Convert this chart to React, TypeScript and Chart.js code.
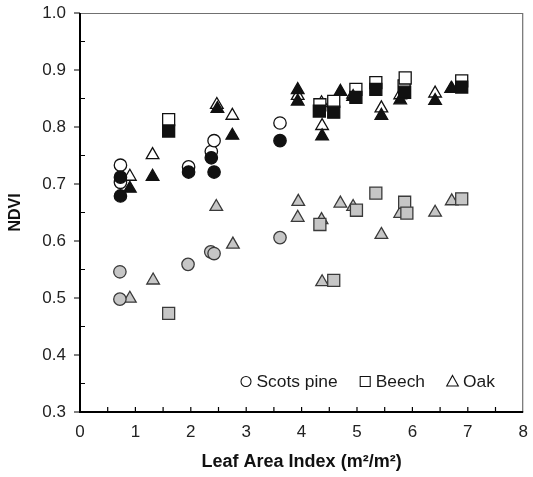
import React, { useEffect, useRef } from "react";
import { Chart, registerables } from "chart.js";

Chart.register(...registerables);

// ---- data (Leaf Area Index, NDVI) ----
const pineOpenX = [0.73, 0.73, 1.96, 2.37, 2.42, 3.61];
const pineOpenY = [0.733, 0.703, 0.73, 0.757, 0.776, 0.807];
const pineBlackX = [0.73, 0.73, 1.96, 2.37, 2.42, 3.61];
const pineBlackY = [0.712, 0.679, 0.721, 0.746, 0.721, 0.776];
const pineGreyX = [0.72, 0.72, 1.95, 2.36, 2.42, 3.61];
const pineGreyY = [0.546, 0.498, 0.559, 0.581, 0.578, 0.606];

const beechOpenX = [1.6, 4.33, 4.58, 4.98, 5.34, 5.85, 5.87, 6.89];
const beechOpenY = [0.813, 0.839, 0.845, 0.866, 0.878, 0.872, 0.886, 0.881];
const beechBlackX = [1.6, 4.32, 4.58, 4.98, 5.34, 5.86, 6.89];
const beechBlackY = [0.793, 0.828, 0.826, 0.852, 0.866, 0.861, 0.87];
const beechGreyX = [1.6, 4.33, 4.58, 4.99, 5.34, 5.86, 5.9, 6.89];
const beechGreyY = [0.473, 0.629, 0.531, 0.654, 0.684, 0.668, 0.649, 0.674];

const oakOpenX = [0.9, 1.31, 2.47, 2.75, 3.93, 4.36, 4.37, 4.93, 5.44, 5.78, 6.41, 6.7];
const oakOpenY = [0.713, 0.751, 0.839, 0.82, 0.855, 0.842, 0.802, 0.857, 0.833, 0.856, 0.859, 0.867];
const oakBlackX = [0.9, 1.31, 2.48, 2.75, 3.93, 3.93, 4.37, 4.7, 4.93, 5.44, 5.78, 6.41, 6.71];
const oakBlackY = [0.692, 0.713, 0.832, 0.785, 0.865, 0.845, 0.784, 0.862, 0.853, 0.82, 0.847, 0.846, 0.867];
const oakGreyX = [0.9, 1.32, 2.46, 2.76, 3.94, 3.93, 4.36, 4.7, 4.93, 4.37, 5.44, 5.78, 6.41, 6.71];
const oakGreyY = [0.499, 0.531, 0.66, 0.594, 0.669, 0.641, 0.637, 0.666, 0.66, 0.528, 0.611, 0.648, 0.65, 0.67];

const legendLabels = ["Scots pine", "Beech", "Oak"];
const xTitle = "Leaf Area Index (m²/m²)";
const yTitle = "NDVI";

const FONT = "'Liberation Sans', Arial, Helvetica, sans-serif";
const BLACK = "#111111";
const GREY = "#c6c6c6";
const GREY_EDGE = "#3a3a3a";

const pts = (xs: number[], ys: number[]) => xs.map((x, i) => ({ x, y: ys[i] }));

type Style = "circle" | "rect" | "triangle";
const radiusFor: Record<Style, number> = { circle: 6.2, rect: 8.5, triangle: 7.3 };

function ds(label: string, xs: number[], ys: number[], style: Style, kind: "open" | "black" | "grey", legend: boolean) {
  const bg = kind === "open" ? "#ffffff" : kind === "black" ? BLACK : GREY;
  const bd = kind === "grey" ? GREY_EDGE : BLACK;
  return {
    label,
    data: pts(xs, ys),
    pointStyle: style,
    pointRadius: radiusFor[style],
    pointBackgroundColor: bg,
    pointBorderColor: bd,
    pointBorderWidth: 1.3,
    showLine: false,
    order: kind === "open" ? 3 : kind === "grey" ? 2 : 1,
    legendItem: legend,
  } as any;
}

const framePlugin = {
  id: "frameTicks",
  afterDraw(chart: any) {
    const { ctx, chartArea: a, scales } = chart;
    const xs = scales.x;
    const ys = scales.y;
    ctx.save();
    // top & right frame
    ctx.strokeStyle = "#707070";
    ctx.lineWidth = 1.2;
    ctx.beginPath();
    ctx.moveTo(a.left, a.top + 0.5);
    ctx.lineTo(a.right - 0.5, a.top + 0.5);
    ctx.lineTo(a.right - 0.5, a.bottom);
    ctx.stroke();
    // axes
    ctx.strokeStyle = "#000";
    ctx.lineWidth = 2;
    ctx.beginPath();
    ctx.moveTo(a.left, a.top);
    ctx.lineTo(a.left, a.bottom);
    ctx.lineTo(a.right, a.bottom);
    ctx.stroke();
    // y ticks: major outward, minor inward
    ctx.lineWidth = 1.2;
    ctx.beginPath();
    for (let v = 0.3; v <= 1.0001; v += 0.05) {
      const k = Math.round(v * 100);
      const py = ys.getPixelForValue(v);
      if (k % 10 === 0) {
        ctx.moveTo(a.left - 6, py);
        ctx.lineTo(a.left, py);
      } else {
        ctx.moveTo(a.left, py);
        ctx.lineTo(a.left + 5, py);
      }
    }
    // x ticks: inward
    for (let v = 0.5; v < 8; v += 0.5) {
      const px = xs.getPixelForValue(v);
      ctx.moveTo(px, a.bottom);
      ctx.lineTo(px, a.bottom - 5);
    }
    ctx.stroke();

    // legend inside the plot
    const items = chart.data.datasets.filter((d: any) => d.legendItem);
    ctx.font = `17.4px ${FONT}`;
    ctx.textBaseline = "middle";
    ctx.textAlign = "left";
    const ly = a.bottom - 30.5;
    let lx = a.left + 166;
    items.forEach((d: any) => {
      const st = d.pointStyle;
      ctx.fillStyle = "#fff";
      ctx.strokeStyle = "#111";
      ctx.lineWidth = 1.1;
      ctx.beginPath();
      if (st === "circle") {
        ctx.arc(lx, ly, 5, 0, Math.PI * 2);
      } else if (st === "rect") {
        ctx.rect(lx - 5, ly - 5, 10, 10);
      } else {
        ctx.moveTo(lx, ly - 6);
        ctx.lineTo(lx + 5.8, ly + 4.5);
        ctx.lineTo(lx - 5.8, ly + 4.5);
        ctx.closePath();
      }
      ctx.fill();
      ctx.stroke();
      ctx.fillStyle = "#1a1a1a";
      const tx = lx + 10.5;
      ctx.fillText(d.label, tx, ly + 1);
      const w = ctx.measureText(d.label).width;
      lx = tx + w + 27.5;
    });
    ctx.restore();
  },
};

export default function App() {
  const ref = useRef<HTMLCanvasElement | null>(null);
  useEffect(() => {
    if (!ref.current) return;
    const chart = new Chart(ref.current, {
      type: "scatter",
      data: {
        datasets: [
          ds(legendLabels[0], pineOpenX, pineOpenY, "circle", "open", true),
          ds(legendLabels[1], beechOpenX, beechOpenY, "rect", "open", true),
          ds(legendLabels[2], oakOpenX, oakOpenY, "triangle", "open", true),
          ds(legendLabels[0] + " (black)", pineBlackX, pineBlackY, "circle", "black", false),
          ds(legendLabels[1] + " (black)", beechBlackX, beechBlackY, "rect", "black", false),
          ds(legendLabels[2] + " (black)", oakBlackX, oakBlackY, "triangle", "black", false),
          ds(legendLabels[0] + " (grey)", pineGreyX, pineGreyY, "circle", "grey", false),
          ds(legendLabels[1] + " (grey)", beechGreyX, beechGreyY, "rect", "grey", false),
          ds(legendLabels[2] + " (grey)", oakGreyX, oakGreyY, "triangle", "grey", false),
        ],
      },
      options: {
        animation: false,
        responsive: false,
        maintainAspectRatio: false,
        layout: { padding: { top: 13, right: 3, left: 0, bottom: 0 } },
        plugins: { legend: { display: false }, tooltip: { enabled: false } },
        scales: {
          x: {
            type: "linear",
            min: 0,
            max: 8,
            ticks: { stepSize: 1, color: "#222", font: { family: FONT, size: 17 }, padding: 10 },
            grid: { display: false, drawTicks: false },
            border: { display: false },
            title: {
              display: true,
              text: xTitle,
              color: "#111",
              font: { family: FONT, size: 18, weight: "bold" },
              padding: { top: 0, bottom: 4 },
            },
            afterFit: (s: any) => {
              s.height = 65;
              s.paddingLeft = 0;
              s.paddingRight = 3;
            },
          },
          y: {
            type: "linear",
            min: 0.3,
            max: 1.0,
            ticks: {
              stepSize: 0.1,
              color: "#222",
              font: { family: FONT, size: 17 },
              padding: 14,
              callback: (v: any) => Number(v).toFixed(1),
            },
            grid: { display: false, drawTicks: false },
            border: { display: false },
            title: {
              display: true,
              text: yTitle,
              color: "#111",
              font: { family: FONT, size: 16, weight: "bold" },
              padding: { top: 6, bottom: 0 },
            },
            afterFit: (s: any) => {
              s.width = 80;
              s.paddingTop = 0;
              s.paddingBottom = 0;
            },
          },
        },
      } as any,
      plugins: [framePlugin],
    });
    return () => chart.destroy();
  }, []);
  return (
    <div style={{ position: "absolute", left: 0, top: 0, width: 533, height: 477, background: "#fff" }}>
      <canvas ref={ref} width={533} height={477} style={{ display: "block" }} />
    </div>
  );
}
